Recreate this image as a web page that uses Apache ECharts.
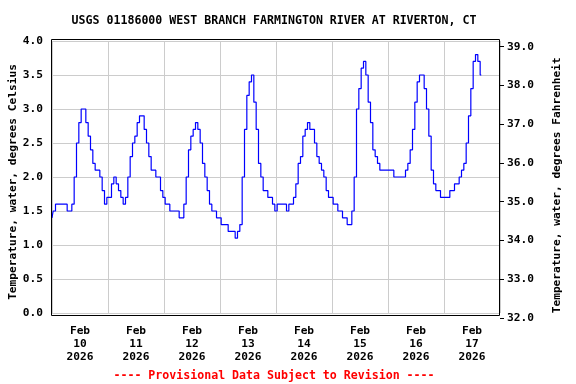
<!DOCTYPE html>
<html><head><meta charset="utf-8">
<script src="https://cdn.jsdelivr.net/npm/echarts@6/dist/echarts.min.js"></script>
<style>html,body{margin:0;padding:0;background:#fff}#c{width:576px;height:384px}</style>
</head><body><div id="c"></div>
<script>
const titleText = 'USGS 01186000 WEST BRANCH FARMINGTON RIVER AT RIVERTON, CT';
const footerText = '---- Provisional Data Subject to Revision ----';
const leftAxisName = 'Temperature, water, degrees Celsius';
const rightAxisName = 'Temperature, water, degrees Fahrenheit';
// hourly readings starting Feb 10 2026 00:00 (hour 0)
const tempC = [
  1.4,1.5,1.6,1.6,1.6,1.6,1.6,1.5,1.5,1.6,2.0,2.5,2.8,3.0,3.0,2.8,2.6,2.4,2.2,2.1,2.1,2.0,1.8,1.6,
  1.7,1.7,1.9,2.0,1.9,1.8,1.7,1.6,1.7,2.0,2.3,2.5,2.6,2.8,2.9,2.9,2.7,2.5,2.3,2.1,2.1,2.0,2.0,1.8,
  1.7,1.6,1.6,1.5,1.5,1.5,1.5,1.4,1.4,1.6,2.0,2.4,2.6,2.7,2.8,2.7,2.5,2.2,2.0,1.8,1.6,1.5,1.5,1.4,
  1.4,1.3,1.3,1.3,1.2,1.2,1.2,1.1,1.2,1.3,2.0,2.7,3.2,3.4,3.5,3.1,2.7,2.2,2.0,1.8,1.8,1.7,1.7,1.6,
  1.5,1.6,1.6,1.6,1.6,1.5,1.6,1.6,1.7,1.9,2.2,2.3,2.6,2.7,2.8,2.7,2.7,2.5,2.3,2.2,2.1,2.0,1.8,1.7,
  1.7,1.6,1.6,1.5,1.5,1.4,1.4,1.3,1.3,1.5,2.0,3.0,3.3,3.6,3.7,3.5,3.1,2.8,2.4,2.3,2.2,2.1,2.1,2.1,
  2.1,2.1,2.1,2.0,2.0,2.0,2.0,2.0,2.1,2.2,2.4,2.7,3.1,3.4,3.5,3.5,3.3,3.0,2.6,2.1,1.9,1.8,1.8,1.7,
  1.7,1.7,1.7,1.8,1.8,1.9,1.9,2.0,2.1,2.2,2.5,2.9,3.3,3.7,3.8,3.7,3.5
];
const dayLabels = ['Feb\n10\n2026','Feb\n11\n2026','Feb\n12\n2026','Feb\n13\n2026','Feb\n14\n2026','Feb\n15\n2026','Feb\n16\n2026','Feb\n17\n2026'];
const dayLabelHours = [12,36,60,84,108,132,156,180];

const seriesData = tempC.map((v, i) => [i, v]);
const mono = 'DejaVu Sans Mono';
const labelFont = {fontFamily: mono, fontWeight: 'bold', fontSize: 11.2, color: '#000'};
const chart = echarts.init(document.getElementById('c'), null, {renderer: 'canvas'});
chart.setOption({
  animation: false,
  backgroundColor: '#fff',
  grid: [
    {left: 52, right: 76, top: 41, bottom: 71, containLabel: false, outerBoundsMode: 'none'},
    {left: 52, right: 76, top: 46.7, bottom: 66, containLabel: false, outerBoundsMode: 'none'}
  ],
  title: [
    {text: titleText, left: 269, top: 10, textAlign: 'center',
     textStyle: {fontFamily: mono, fontWeight: 'bold', fontSize: 11.6, color: '#000'}},
    {text: footerText, left: 269, top: 365, textAlign: 'center',
     textStyle: {fontFamily: mono, fontWeight: 'bold', fontSize: 11.6, color: '#ff0000'}}
  ],
  xAxis: [{
    type: 'value', min: 0, max: 192, interval: 24, gridIndex: 0,
    axisLine: {show: false, onZero: false}, axisTick: {show: false},
    splitLine: {show: true, lineStyle: {color: '#cccccc', width: 1}},
    axisLabel: Object.assign({
      customValues: dayLabelHours, margin: 12, lineHeight: 13,
      formatter: v => dayLabels[dayLabelHours.indexOf(v)] || ''
    }, labelFont)
  }, {
    type: 'value', min: 0, max: 192, gridIndex: 1, show: false,
    axisLine: {onZero: false}
  }],
  yAxis: [
    {type: 'value', min: 0, max: 4, interval: 0.5, position: 'left', gridIndex: 0,
     name: leftAxisName, nameLocation: 'middle', nameGap: 33, nameRotate: 90, nameMoveOverlap: false,
     nameTextStyle: Object.assign({padding: [0, 10, 0, 0]}, labelFont),
     axisLine: {show: false, onZero: false}, axisTick: {show: false},
     splitLine: {show: true, lineStyle: {color: '#cccccc', width: 1}},
     axisLabel: Object.assign({margin: 9, padding: [4, 0, 0, 0], formatter: v => v.toFixed(1)}, labelFont)},
    {type: 'value', min: 32, max: 39, interval: 1, position: 'right', gridIndex: 1,
     name: rightAxisName, nameLocation: 'middle', nameGap: 52, nameRotate: 90, nameMoveOverlap: false,
     nameTextStyle: Object.assign({padding: [0, 6, 0, 0]}, labelFont),
     axisLine: {show: false, onZero: false},
     axisTick: {show: true, length: 4, lineStyle: {color: '#000'}},
     splitLine: {show: false},
     axisLabel: Object.assign({margin: 7, formatter: v => v.toFixed(1)}, labelFont)}
  ],
  series: [{
    type: 'line', data: seriesData, xAxisIndex: 0, yAxisIndex: 0, step: 'middle',
    showSymbol: false, symbol: 'none',
    lineStyle: {color: '#0000ff', width: 1.2}
  }],
  graphic: [{
    type: 'rect', silent: true, z: 100,
    shape: {x: 51.5, y: 39.5, width: 448, height: 276},
    style: {fill: 'none', stroke: '#000', lineWidth: 1}
  }]
});
</script></body></html>
